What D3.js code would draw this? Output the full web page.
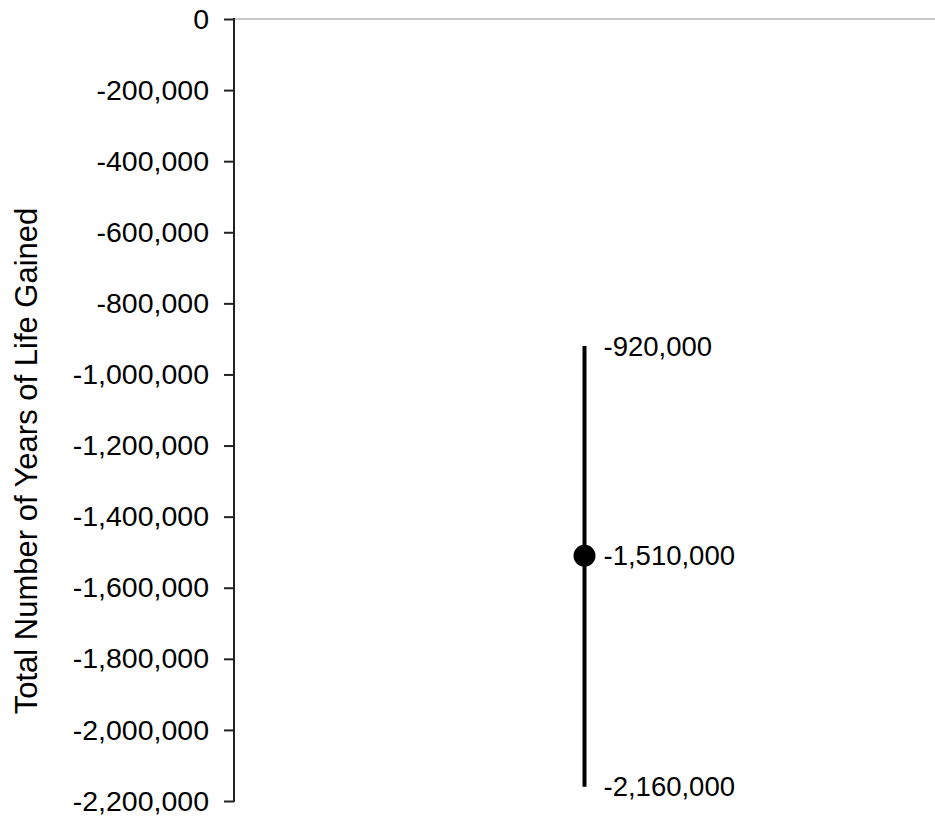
<!DOCTYPE html>
<html>
<head>
<meta charset="utf-8">
<script src="https://cdn.jsdelivr.net/npm/d3@7"></script>
<style>
  body { margin: 0; background: #fff; }
  text { font-family: "Liberation Sans", Arial, sans-serif; }
</style>
</head>
<body>
<div id="chart"></div>
<script>
var categories = ['Estimate'];
var central = [-1510000];
var low = [-2160000];
var high = [-920000];
var y_ticks = [0, -200000, -400000, -600000, -800000, -1000000, -1200000,
               -1400000, -1600000, -1800000, -2000000, -2200000];
var y_title = 'Total Number of Years of Life Gained';

var width = 935, height = 816;
var margin = {top: 19, right: 0, bottom: 15, left: 234};
var inner_w = width - margin.left - margin.right;
var inner_h = height - margin.top - margin.bottom;

var svg = d3.select('#chart')
    .append('svg')
        .attr('width', width)
        .attr('height', height)
    .append('g')
        .attr('transform', 'translate(' + margin.left + ',' + margin.top + ')');

var x_scale = d3.scaleBand()
    .domain(categories)
    .range([0, inner_w]);

var y_scale = d3.scaleLinear()
    .domain([0, -2200000])
    .range([0, inner_h]);

// plain hyphen for negatives, like the original
var locale = d3.formatLocale({decimal: '.', thousands: ',', grouping: [3], currency: ['$', ''], minus: '-'});
var fmt = locale.format(',');

// zero line
svg.append('line')
    .attr('x1', 0)
    .attr('x2', inner_w)
    .attr('y1', y_scale(0))
    .attr('y2', y_scale(0))
    .attr('stroke', '#c8c8c8')
    .attr('stroke-width', 2);

var y_axis = d3.axisLeft(y_scale)
    .tickValues(y_ticks)
    .tickSize(10)
    .tickPadding(15)
    .tickFormat(fmt);

var ya = svg.append('g')
    .attr('class', 'y-axis')
    .call(y_axis);
ya.select('.domain').remove();
ya.append('line')
    .attr('x1', 0).attr('x2', 0)
    .attr('y1', y_scale(0) - 1).attr('y2', y_scale(-2200000) + 1)
    .attr('stroke', '#222').attr('stroke-width', 2);
ya.selectAll('.tick line').attr('stroke', '#222').attr('stroke-width', 2);
ya.selectAll('.tick text')
    .style('font-size', '28.5px')
    .attr('fill', '#000')
    .style('font-family', '"Liberation Sans", Arial, sans-serif');

svg.append('text')
    .attr('transform', 'translate(' + (37 - margin.left) + ',' + (461 - margin.top) + ') rotate(-90)')
    .attr('text-anchor', 'middle')
    .style('font-size', '31px')
    .attr('fill', '#000')
    .text(y_title);

var data = categories.map(function(c, i) {
    return {cat: c, mid: central[i], lo: low[i], hi: high[i]};
});

var g = svg.selectAll('.est')
    .data(data)
    .enter()
    .append('g')
    .attr('class', 'est');

function cx(d) { return x_scale(d.cat) + x_scale.bandwidth() / 2; }

g.append('line')
    .attr('x1', cx).attr('x2', cx)
    .attr('y1', function(d) { return y_scale(d.hi); })
    .attr('y2', function(d) { return y_scale(d.lo); })
    .attr('stroke', '#000')
    .attr('stroke-width', 4);

g.append('circle')
    .attr('cx', cx)
    .attr('cy', function(d) { return y_scale(d.mid); })
    .attr('r', 11)
    .attr('fill', '#000');

['hi', 'mid', 'lo'].forEach(function(k) {
    g.append('text')
        .attr('x', function(d) { return cx(d) + 19; })
        .attr('y', function(d) { return y_scale(d[k]); })
        .attr('dy', '0.35em')
        .style('font-size', '27.5px')
        .attr('fill', '#000')
        .text(function(d) { return fmt(d[k]); });
});
</script>
</body>
</html>
